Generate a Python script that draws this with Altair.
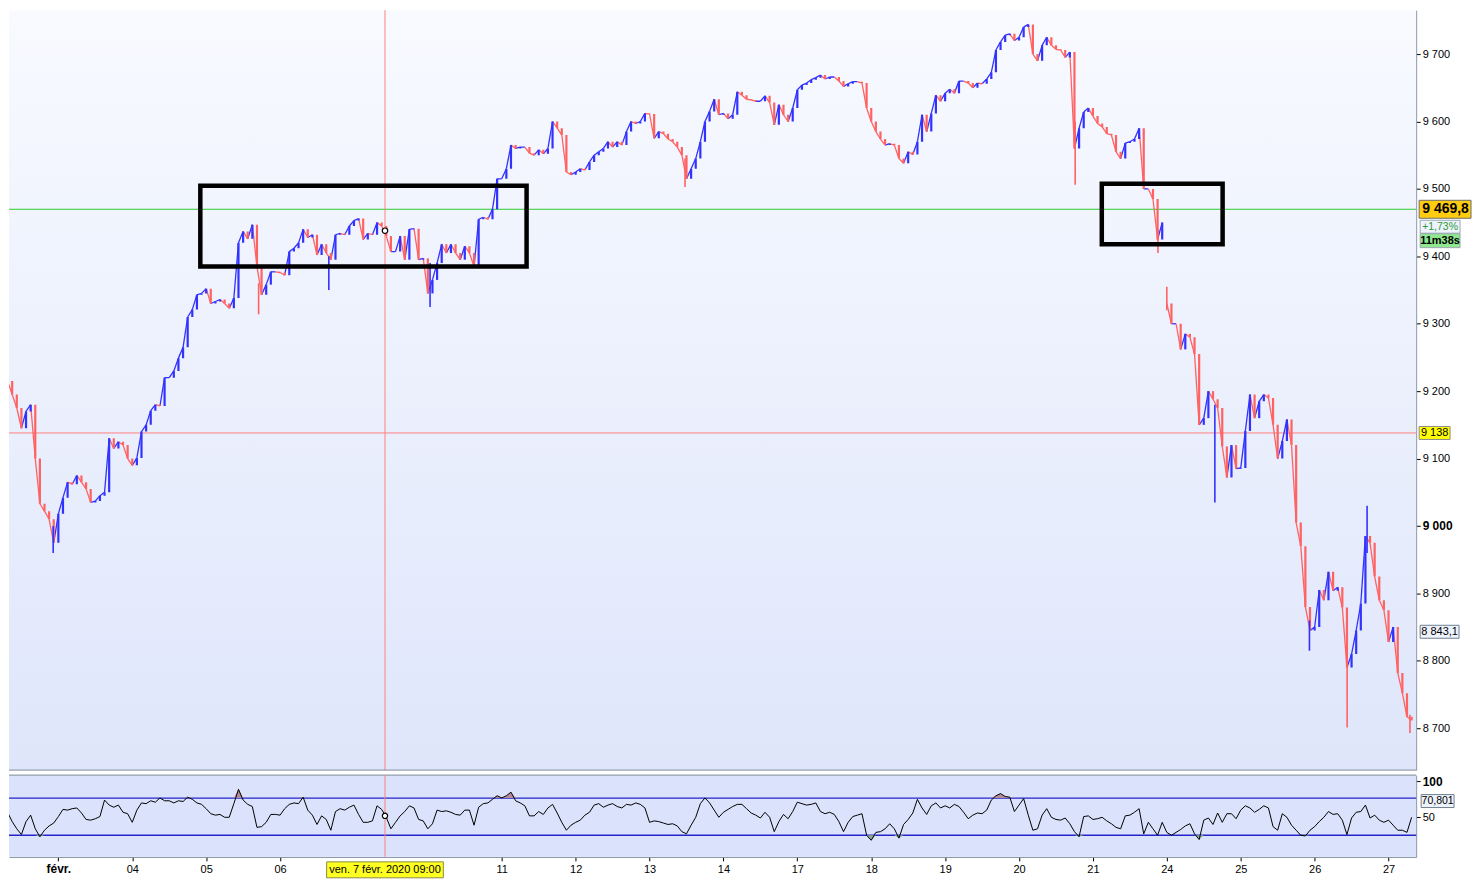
import altair as alt
import pandas as pd

# ---------------- data ----------------
# trading-day index: 0 = Mon 3 Feb 2020 ("févr."), -1 = Fri 31 Jan
day_index = [-1, 0, 1, 2, 3, 4, 5, 6, 7, 8, 9, 10, 11, 12, 13, 14, 15, 16, 17, 18]
tick_labels = ["févr.", "04", "05", "06", "07", "10", "11", "12", "13", "14",
               "17", "18", "19", "20", "21", "24", "25", "26", "27"]
samples_per_day = 16
first_sample_jan31 = 4      # Jan 31 starts off-chart
gap_day = 15                # Mon 24 Feb opens with a gap

# price samples (close) per trading day
p_jan31 = [9230, 9215, 9195, 9175, 9145, 9170, 9180, 9100, 9033, 9022, 9010, 8975]
p_feb03 = [9018, 9042, 9065, 9062, 9075, 9065, 9055, 9035, 9037, 9045, 9050, 9130, 9115, 9125, 9120, 9100]
p_feb04 = [9090, 9101, 9140, 9150, 9171, 9180, 9178, 9220, 9220, 9230, 9249, 9265, 9310, 9321, 9343, 9345]
p_feb05 = [9352, 9330, 9333, 9336, 9330, 9323, 9338, 9420, 9437, 9426, 9447, 9385, 9343, 9358, 9377, 9377]
p_feb06 = [9376, 9372, 9407, 9412, 9420, 9440, 9428, 9432, 9402, 9418, 9405, 9395, 9432, 9434, 9432, 9445]
p_feb07 = [9453, 9456, 9425, 9434, 9432, 9450, 9445, 9430, 9407, 9407, 9430, 9395, 9440, 9441, 9395, 9397]
p_feb10 = [9345, 9365, 9390, 9418, 9405, 9418, 9405, 9395, 9415, 9405, 9385, 9455, 9458, 9455, 9470, 9515]
p_feb11 = [9515, 9530, 9565, 9560, 9562, 9562, 9553, 9550, 9558, 9552, 9560, 9600, 9590, 9580, 9525, 9521]
p_feb12 = [9525, 9530, 9528, 9540, 9550, 9555, 9560, 9570, 9562, 9570, 9565, 9585, 9600, 9597, 9600, 9612]
p_feb13 = [9611, 9575, 9585, 9582, 9574, 9570, 9562, 9550, 9515, 9530, 9545, 9570, 9600, 9615, 9633, 9610]
p_feb14 = [9612, 9604, 9610, 9644, 9639, 9633, 9632, 9630, 9630, 9638, 9628, 9595, 9625, 9610, 9600, 9620]
p_feb17 = [9647, 9654, 9657, 9662, 9665, 9669, 9663, 9666, 9666, 9660, 9652, 9656, 9659, 9659, 9657, 9620]
p_feb18 = [9600, 9585, 9574, 9565, 9567, 9565, 9545, 9538, 9555, 9551, 9570, 9610, 9585, 9612, 9639, 9630]
p_feb19 = [9642, 9648, 9642, 9660, 9660, 9657, 9650, 9657, 9656, 9663, 9673, 9706, 9718, 9728, 9730, 9720]
p_feb20 = [9725, 9740, 9744, 9700, 9690, 9713, 9725, 9713, 9707, 9706, 9695, 9703, 9560, 9590, 9614, 9620]
p_feb21 = [9608, 9597, 9592, 9582, 9580, 9555, 9545, 9568, 9570, 9574, 9590, 9500, 9500, 9485, 9425, 9450]
p_feb24 = [9330, 9300, 9300, 9262, 9285, 9280, 9255, 9150, 9160, 9200, 9188, 9175, 9118, 9072, 9120, 9085]
p_feb25 = [9086, 9141, 9195, 9160, 9185, 9195, 9190, 9150, 9100, 9126, 9158, 9120, 9005, 8970, 8880, 8845]
p_feb26 = [8850, 8905, 8890, 8932, 8904, 8909, 8879, 8790, 8810, 8845, 8885, 8985, 8975, 8925, 8890, 8875]
p_feb27 = [8828, 8850, 8782, 8752, 8717, 8712]

# RSI samples per trading day
r_jan31 = [66, 57, 44, 34, 26, 44, 53, 34, 23, 32, 38, 42]
r_feb03 = [51, 61, 60, 62, 63, 56, 47, 46, 48, 51, 74, 67, 64, 67, 57, 55]
r_feb04 = [43, 60, 70, 69, 73, 71, 77, 73, 73, 70, 73, 72, 78, 75, 70, 68]
r_feb05 = [62, 55, 53, 54, 50, 50, 69, 89, 74, 68, 65, 36, 37, 43, 54, 54]
r_feb06 = [53, 62, 68, 70, 69, 78, 60, 53, 40, 52, 47, 32, 58, 62, 60, 64]
r_feb07 = [67, 54, 43, 43, 45, 66, 61, 50, 34, 43, 52, 58, 66, 63, 47, 45]
r_feb10 = [34, 41, 60, 58, 59, 57, 54, 53, 60, 60, 39, 64, 69, 70, 75, 80]
r_feb11 = [77, 80, 85, 73, 70, 66, 52, 52, 58, 54, 63, 68, 56, 43, 32, 39]
r_feb12 = [43, 46, 53, 57, 67, 69, 64, 67, 69, 65, 63, 68, 67, 70, 68, 63]
r_feb13 = [43, 45, 44, 42, 40, 41, 38, 30, 27, 39, 50, 69, 77, 70, 60, 50]
r_feb14 = [57, 61, 65, 68, 68, 62, 56, 53, 49, 57, 50, 30, 44, 54, 48, 58]
r_feb17 = [71, 69, 67, 68, 70, 58, 55, 57, 54, 44, 30, 43, 51, 53, 55, 25]
r_feb18 = [18, 29, 30, 34, 41, 34, 21, 40, 47, 56, 75, 63, 54, 66, 70, 63]
r_feb19 = [66, 63, 68, 65, 57, 48, 53, 56, 55, 60, 74, 80, 83, 79, 78, 58]
r_feb20 = [67, 76, 53, 32, 34, 53, 62, 50, 47, 46, 49, 41, 30, 23, 51, 52]
r_feb21 = [47, 48, 50, 45, 41, 36, 34, 52, 53, 57, 62, 27, 43, 34, 25, 43]
r_feb24 = [29, 25, 29, 33, 38, 41, 27, 19, 46, 49, 40, 56, 43, 55, 55, 48]
r_feb25 = [60, 66, 63, 57, 61, 66, 63, 37, 32, 55, 50, 39, 32, 25, 24, 32]
r_feb26 = [37, 44, 50, 58, 54, 55, 46, 26, 49, 57, 58, 67, 49, 53, 46, 43]
r_feb27 = [46, 39, 32, 32, 29, 50]

# notable wicks (time in trading days, low, high, direction)
wick_t = [-0.07, 2.71, 3.66, 5.03, 8.48, 13.76, 14.88, 15.0, 15.65, 16.93, 17.44, 17.71, 18.29]
wick_lo = [8960, 9314, 9350, 9325, 9503, 9506, 9405, 9320, 9035, 8815, 8701, 8960, 8693]
wick_hi = [9000, 9360, 9400, 9390, 9545, 9600, 9440, 9355, 9180, 8860, 8800, 9030, 8720]
wick_dir = ["up", "down", "up", "up", "down", "down", "down", "down", "up", "up", "down", "up", "down"]

# annotation rectangles (drawn boxes)
box_t0 = [1.921, 14.12]
box_t1 = [6.336, 15.755]
box_top = [9504.7, 9507.7]
box_bot = [9384.9, 9417.8]

# reference levels / crosshair
last_price = 9469.8
cross_price = 9138
low_marker = 8843.1
cross_t = 4.42
cross_point_price = 9438
cross_point_rsi = 52
rsi_upper, rsi_lower = 76.8, 25.0
rsi_value_label_pos = 72.6

txt_last = "9 469,8"
txt_change = "+1,73%"
txt_timer = "11m38s"
txt_cross = "9 138"
txt_low = "8 843,1"
txt_rsi = "70,801"
txt_date = "ven. 7 févr. 2020 09:00"

price_ticks = [8700, 8800, 8900, 9000, 9100, 9200, 9300, 9400, 9500, 9600, 9700]
rsi_ticks = [50, 100]

# ---------------- build tables ----------------
price_days = [p_jan31, p_feb03, p_feb04, p_feb05, p_feb06, p_feb07, p_feb10, p_feb11, p_feb12, p_feb13,
              p_feb14, p_feb17, p_feb18, p_feb19, p_feb20, p_feb21, p_feb24, p_feb25, p_feb26, p_feb27]
rsi_days = [r_jan31, r_feb03, r_feb04, r_feb05, r_feb06, r_feb07, r_feb10, r_feb11, r_feb12, r_feb13,
            r_feb14, r_feb17, r_feb18, r_feb19, r_feb20, r_feb21, r_feb24, r_feb25, r_feb26, r_feb27]


def build(series_days):
    rows = []
    for k, vals in zip(day_index, series_days):
        start = first_sample_jan31 if k == -1 else 0
        for j, v in enumerate(vals):
            rows.append({"t": k + (start + j) / samples_per_day, "day": k, "j": start + j, "v": v})
    return pd.DataFrame(rows)


pdf = build(price_days)
segs = []
for i in range(1, len(pdf)):
    a, b = pdf.iloc[i - 1], pdf.iloc[i]
    if b["day"] == gap_day and b["j"] == 0:
        continue
    segs.append({"t0": a["t"], "t1": b["t"], "p0": a["v"], "p1": b["v"],
                 "dir": "up" if b["v"] >= a["v"] else "down"})
seg_df = pd.DataFrame(segs)

wick_df = pd.DataFrame({"t": wick_t, "lo": wick_lo, "hi": wick_hi, "dir": wick_dir})
box_df = pd.DataFrame({"t0": box_t0, "t1": box_t1, "top": box_top, "bot": box_bot})

rdf = build(rsi_days)
rdf["hi"] = rdf["v"].clip(lower=rsi_upper)
rdf["lo"] = rdf["v"].clip(upper=rsi_lower)
rdf["up_lvl"] = rsi_upper
rdf["lo_lvl"] = rsi_lower

# ---------------- styling ----------------
W, H1, H2 = 1411, 762, 82
FONT = "Liberation Sans"
UP, DOWN = "#3232ff", "#ff6262"
AXIS_GRAY = "#7c8b9a"

x_scale = alt.Scale(domain=[-0.668, 18.374], nice=False, zero=False)
p_scale = alt.Scale(domain=[8637.9, 9765.1], nice=False, zero=False)
r_scale = alt.Scale(domain=[-5.1, 108.75], nice=False, zero=False)
dir_scale = alt.Scale(domain=["up", "down"], range=[UP, DOWN])

p_axis = alt.Axis(orient="right", values=price_ticks, title=None, grid=False,
                  labelExpr="replace(format(datum.value, ','), ',', ' ')",
                  tickSize=4, tickColor="black", domainColor=AXIS_GRAY, labelPadding=2,
                  labelFont=FONT, labelColor="black",
                  labelFontSize={"condition": {"test": "datum.value == 9000", "value": 12}, "value": 11},
                  labelFontWeight={"condition": {"test": "datum.value == 9000", "value": "bold"}, "value": "normal"})

label_array = "[" + ",".join("'" + s + "'" for s in tick_labels) + "]"
x_axis = alt.Axis(orient="bottom", values=[i for i in range(19) if i not in (4, 5)], title=None, grid=False,
                  labelExpr=label_array + "[datum.value]", tickSize=4, tickColor="black",
                  domainColor=AXIS_GRAY, labelPadding=3, labelFont=FONT, labelColor="black",
                  labelFontSize={"condition": {"test": "datum.value == 0", "value": 12}, "value": 11},
                  labelFontWeight={"condition": {"test": "datum.value == 0", "value": "bold"}, "value": "normal"})

r_axis = alt.Axis(orient="right", values=rsi_ticks, title=None, grid=False, tickSize=4, tickColor="black",
                  domainColor=AXIS_GRAY, labelPadding=2, labelFont=FONT, labelColor="black",
                  labelFontSize={"condition": {"test": "datum.value == 100", "value": 12}, "value": 11},
                  labelFontWeight={"condition": {"test": "datum.value == 100", "value": "bold"}, "value": "normal"})


def px(f):
    return alt.X(f, type="quantitative", scale=x_scale, axis=None)


def py(f):
    return alt.Y(f, type="quantitative", scale=p_scale, axis=p_axis)


def rx(f):
    return alt.X(f, type="quantitative", scale=x_scale, axis=x_axis)


def ry(f):
    return alt.Y(f, type="quantitative", scale=r_scale, axis=r_axis)


one = pd.DataFrame({"a": [0]})


def vbox(df, xenc, yenc, dx, hw, hh, fill, stroke, yoff=0):
    path = f"M{-hw},{-hh}H{hw}V{hh}H{-hw}Z"
    return alt.Chart(df).mark_point(shape=path, size=4, filled=True, fill=fill, stroke=stroke,
                                    strokeWidth=1, opacity=1, yOffset=yoff).encode(
        x=xenc if xenc is not None else alt.value(W + dx), y=yenc)


def vtext(df, xenc, yenc, dx, text, size, color="black", weight="normal", yoff=0):
    return alt.Chart(df).mark_text(text=text, font=FONT, fontSize=size, fontWeight=weight, color=color,
                                   align="center", baseline="middle", dy=yoff).encode(
        x=xenc if xenc is not None else alt.value(W + dx), y=yenc)


# ---------------- price pane ----------------
bg_grad = alt.LinearGradient(gradient="linear", x1=0, x2=0, y1=0, y2=1,
                             stops=[alt.GradientStop(color="#f8faff", offset=0),
                                    alt.GradientStop(color="#dfe6fb", offset=1)])
p_bg = alt.Chart(one).mark_rect(color=bg_grad).encode(
    x=alt.value(0), x2=alt.value("width"), y=alt.value(0), y2=alt.value("height"))

lvl_df = pd.DataFrame({"v": [last_price]})
cross_df = pd.DataFrame({"v": [cross_price]})
low_df = pd.DataFrame({"v": [low_marker]})
ct_df = pd.DataFrame({"t": [cross_t], "v": [cross_point_price]})

green_line = alt.Chart(lvl_df).mark_rule(color="#2ecc2e", strokeWidth=1).encode(y=py("v"))
red_hline = alt.Chart(cross_df).mark_rule(color="#ff8080", strokeWidth=1).encode(y=py("v"))
red_vline = alt.Chart(ct_df).mark_rule(color="#ff8080", strokeWidth=1).encode(x=px("t"))

seg_layer = alt.Chart(seg_df).mark_rule(clip=True, strokeWidth=1.3, strokeCap="butt").encode(
    x=px("t0"), x2="t1", y=py("p0"), y2="p1",
    color=alt.Color("dir:N", scale=dir_scale, legend=None))
bar_layer = alt.Chart(seg_df).mark_rule(clip=True, strokeWidth=2.2, strokeCap="butt").encode(
    x=px("t1"), y=py("p0"), y2="p1",
    color=alt.Color("dir:N", scale=dir_scale, legend=None))
wick_layer = alt.Chart(wick_df).mark_rule(clip=True, strokeWidth=1.6).encode(
    x=px("t"), y=py("lo"), y2="hi", color=alt.Color("dir:N", scale=dir_scale, legend=None))

box_layer = alt.Chart(box_df).mark_rect(fillOpacity=0, stroke="black", strokeWidth=4.5).encode(
    x=px("t0"), x2="t1", y=py("top"), y2="bot")

cross_pt = alt.Chart(ct_df).mark_point(shape="circle", size=30, filled=True, fill="white",
                                       stroke="black", strokeWidth=1.2, opacity=1).encode(
    x=px("t"), y=py("v"))

p_border = alt.Chart(one).mark_rule(color=AXIS_GRAY, strokeWidth=1).encode(
    x=alt.value(0), x2=alt.value("width"), y=alt.value("height"))

last_box = vbox(lvl_df, None, py("v"), 29, 26, 9, "#ffcc10", "#6b6b6b")
last_txt = vtext(lvl_df, None, py("v"), 29.5, txt_last, 14, weight="bold")
chg_box = vbox(lvl_df, None, py("v"), 24, 20, 6.5, "#eef3ff", "#9aa6b2", yoff=17.5)
chg_txt = vtext(lvl_df, None, py("v"), 24, txt_change, 10.5, color="#2f9a2f", yoff=17.5)
tim_box = vbox(lvl_df, None, py("v"), 24, 20, 7, "#8fe88f", "#9aa6b2", yoff=31.5)
tim_txt = vtext(lvl_df, None, py("v"), 24, txt_timer, 11, weight="bold", yoff=31.5)
crs_box = vbox(cross_df, None, py("v"), 18.5, 15.5, 6.5, "#ffff00", "#8a8a8a")
crs_txt = vtext(cross_df, None, py("v"), 18.5, txt_cross, 11)
low_box = vbox(low_df, None, py("v"), 23.5, 19.5, 6.5, "#eef2fc", "#6d7f8f")
low_txt = vtext(low_df, None, py("v"), 23.5, txt_low, 11)

price = alt.layer(p_bg, green_line, red_hline, red_vline, seg_layer, bar_layer, wick_layer, box_layer,
                  cross_pt, p_border, last_box, last_txt, chg_box, chg_txt, tim_box, tim_txt,
                  crs_box, crs_txt, low_box, low_txt).properties(width=W, height=H1)

# ---------------- RSI pane ----------------
r_bg = alt.Chart(one).mark_rect(color="#dae3fb").encode(
    x=alt.value(0), x2=alt.value("width"), y=alt.value(0), y2=alt.value("height"))
r_top = alt.Chart(one).mark_rule(color=AXIS_GRAY, strokeWidth=1).encode(
    x=alt.value(0), x2=alt.value("width"), y=alt.value(0))
lv_df = pd.DataFrame({"v": [rsi_upper, rsi_lower]})
r_levels = alt.Chart(lv_df).mark_rule(color="#2424c8", strokeWidth=1.3).encode(y=ry("v"))
r_hi_area = alt.Chart(rdf).mark_area(color="#b48a9c", clip=True).encode(x=rx("t"), y=ry("hi"), y2="up_lvl")
r_lo_area = alt.Chart(rdf).mark_area(color="#8fae9a", clip=True).encode(x=rx("t"), y=ry("lo"), y2="lo_lvl")
r_line = alt.Chart(rdf).mark_line(color="black", strokeWidth=1, clip=True).encode(x=rx("t"), y=ry("v"))
rc_df = pd.DataFrame({"t": [cross_t], "v": [cross_point_rsi], "lbl": [rsi_value_label_pos]})
r_vline = alt.Chart(rc_df).mark_rule(color="#ff8080", strokeWidth=1).encode(x=rx("t"))
r_pt = alt.Chart(rc_df).mark_point(shape="circle", size=28, filled=True, fill="white",
                                   stroke="black", strokeWidth=1.2, opacity=1).encode(x=rx("t"), y=ry("v"))
date_box = vbox(rc_df, rx("t"), alt.value(H2 + 13), 0, 58.5, 8, "#ffff20", "#8a8a4a")
date_txt = vtext(rc_df, rx("t"), alt.value(H2 + 13), 0, txt_date, 11)
rv_box = vbox(rc_df, None, ry("lbl"), 21.5, 16.5, 6.5, "#eef2fb", "#6d7f8f")
rv_txt = vtext(rc_df, None, ry("lbl"), 21.5, txt_rsi, 10.5)

rsi = alt.layer(r_bg, r_top, r_levels, r_hi_area, r_lo_area, r_line, r_vline, r_pt,
                date_box, date_txt, rv_box, rv_txt).properties(width=W, height=H2)

chart = alt.vconcat(price, rsi, spacing=3).properties(
    padding={"left": 0, "top": 0, "right": 0, "bottom": 0},
    background="white").configure_view(strokeWidth=0)

chart.save("out.html", embed_options={"renderer": "svg", "actions": False})
